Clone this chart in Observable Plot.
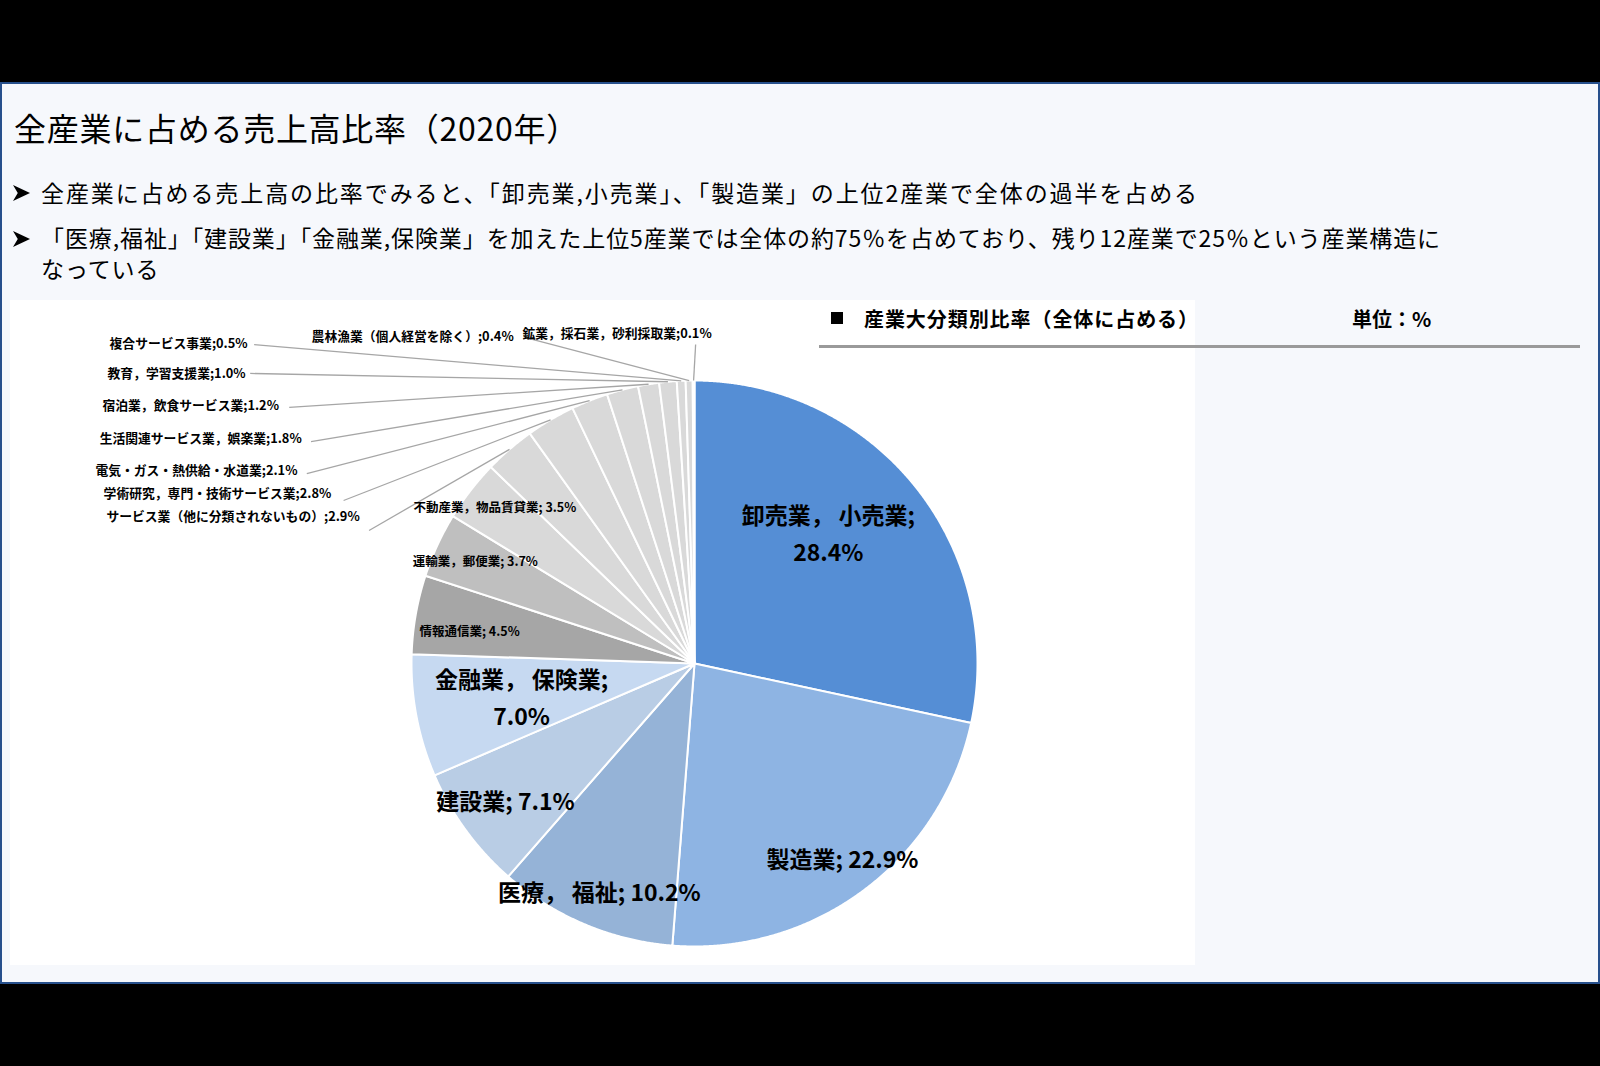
<!DOCTYPE html>
<html><head><meta charset="utf-8">
<script src="https://cdn.jsdelivr.net/npm/d3@7"></script>
<script src="https://cdn.jsdelivr.net/npm/@observablehq/plot@0.6"></script>
<style>
html,body{margin:0;padding:0;}
body{background:#000;width:1600px;height:1066px;overflow:hidden;position:relative;font-family:"Noto Sans CJK JP","Noto Sans",sans-serif;color:#000;}
#slide{position:absolute;left:0;top:82px;width:1596px;height:898px;border:2px solid #27508C;background:#F6F8FC;}
#panel{position:absolute;left:10px;top:300px;width:1185px;height:665px;background:#fff;}
.t{position:absolute;white-space:nowrap;line-height:1;}
#title{left:14px;top:111px;font-size:32px;font-weight:400;}
.bl{font-size:23px;font-weight:400;}
.arrow{position:absolute;left:13px;width:17px;height:16px;background:#000;clip-path:polygon(0 0,100% 50%,0 100%,28% 50%);}
#legendHead{left:864px;top:309px;font-size:20px;font-weight:700;}
#legendSq{left:831px;top:312px;width:12px;height:12px;background:#000;position:absolute;}
#unit{left:1352px;top:309px;font-size:20px;font-weight:700;}
#rule{position:absolute;left:819px;top:345px;width:761px;height:3px;background:#9A9A9A;}
#chart{position:absolute;left:0;top:300px;}
</style>
</head><body>
<div id="slide"></div>
<div id="panel"></div>
<div class="t" id="title">全産業に占める売上高比率（2020年）</div>
<div class="arrow" style="top:185px"></div>
<div class="t bl" id="b1" style="left:41px;top:181px">全産業に占める売上高の比率でみると、「卸売業,小売業」、「製造業」の上位2産業で全体の過半を占める</div>
<div class="arrow" style="top:231px"></div>
<div class="t bl" id="b2" style="left:41px;top:226px">「医療,福祉」「建設業」「金融業,保険業」を加えた上位5産業では全体の約75％を占めており、残り12産業で25％という産業構造に</div>
<div class="t bl" id="b3" style="left:41px;top:257px">なっている</div>
<div id="legendSq"></div>
<div class="t" id="legendHead">産業大分類別比率（全体に占める）</div>
<div class="t" id="unit">単位：%</div>
<div id="rule"></div>
<div id="chart"></div>
<script>
// ---- data ----
const industries = ["卸売業，小売業","製造業","医療，福祉","建設業","金融業，保険業","情報通信業","運輸業，郵便業","不動産業，物品賃貸業","サービス業（他に分類されないもの）","学術研究，専門・技術サービス業","電気・ガス・熱供給・水道業","生活関連サービス業，娯楽業","宿泊業，飲食サービス業","教育，学習支援業","複合サービス事業","農林漁業（個人経営を除く）","鉱業，採石業，砂利採取業"];
const shares = [28.4,22.9,10.2,7.1,7.0,4.5,3.7,3.5,2.9,2.8,2.1,1.8,1.2,1.0,0.5,0.4,0.1];

// ---- styles ----
const sliceColors = ["#558ED5","#8EB4E3","#95B3D7","#B9CDE5","#C6D9F1","#A6A6A6","#BFBFBF","#D9D9D9","#D9D9D9","#D9D9D9","#D9D9D9","#D9D9D9","#D9D9D9","#D9D9D9","#D9D9D9","#D9D9D9","#D9D9D9"];

// ---- label layout (units of pie radius, origin at pie centre) ----
const labelKind = ["big","big","big","big","big","inner","inner","inner","outer","outer","outer","outer","outer","outer","outer","outer","outer"];
const labelSep  = [";\n","; ","; ","; ",";\n","; ","; ","; ",";",";",";",";",";",";",";",";",";"];
const labelU = [0.473,0.523,-0.336,-0.668,-0.611,-0.972,-0.996,-0.993,-2.078,-2.088,-2.117,-2.102,-2.092,-2.074,-2.067,-1.353,-0.608];
const labelV = [0.470,-0.682,-0.798,-0.477,-0.111,0.113,0.360,0.548,0.519,0.601,0.682,0.792,0.912,1.025,1.131,1.155,1.163];
const leaderU = [null,null,null,null,null,null,null,null,-1.150,-1.240,-1.370,-1.355,-1.432,-1.570,-1.556,-0.600,0.004];
const leaderV = [null,null,null,null,null,null,null,null,0.470,0.576,0.671,0.784,0.905,1.025,1.127,1.152,1.127];

const rows = industries.map((name, i) => ({name, value: shares[i], i}));
const arcs = d3.pie().sort(null).value(d => d.value)(rows);

const pts = [];
arcs.forEach(a => {
  const name = a.data.name;
  pts.push({name, x: 0, y: 0});
  const n = Math.max(2, Math.ceil((a.endAngle - a.startAngle) / 0.004));
  for (let k = 0; k <= n; k++) {
    const t = a.startAngle + (a.endAngle - a.startAngle) * k / n;
    pts.push({name, x: Math.sin(t), y: Math.cos(t)});
  }
});

const labels = arcs.map(a => {
  const i = a.data.i;
  const mid = (a.startAngle + a.endAngle) / 2;
  const nm = labelKind[i] === "big" ? a.data.name.replace("，", "，\u2009") : a.data.name;
  return {
    kind: labelKind[i],
    text: nm + labelSep[i] + a.data.value.toFixed(1) + "%",
    x: labelU[i], y: labelV[i],
    lx: leaderU[i], ly: leaderV[i],
    ex: Math.sin(mid), ey: Math.cos(mid)
  };
});
const outer = labels.filter(d => d.kind === "outer");

const cx = 694, r = 283, cyInSvg = 363;
const chart = Plot.plot({
  width: 1600, height: 680, margin: 0,
  style: {background: "transparent", fontFamily: "'Noto Sans CJK JP', sans-serif"},
  x: {domain: [-1, 1], range: [cx - r, cx + r], axis: null},
  y: {domain: [-1, 1], range: [cyInSvg + r, cyInSvg - r], axis: null},
  color: {domain: industries, range: sliceColors},
  marks: [
    Plot.line(pts, {x: "x", y: "y", z: "name", fill: "name", stroke: "#fff", strokeWidth: 2, strokeLinejoin: "round", curve: "linear-closed"}),
    Plot.link(outer, {x1: "lx", y1: "ly", x2: "ex", y2: "ey", stroke: "#A6A6A6", strokeWidth: 1.3}),
    Plot.text(labels.filter(d => d.kind === "big"), {x: "x", y: "y", text: "text", fontSize: 23, fontWeight: "bold", lineHeight: 1.6, textAnchor: "middle", fill: "#000"}),
    Plot.text(labels.filter(d => d.kind === "inner"), {x: "x", y: "y", text: "text", fontSize: 12.5, fontWeight: "bold", textAnchor: "start", fill: "#000"}),
    Plot.text(outer, {x: "x", y: "y", text: "text", fontSize: 12.8, fontWeight: "bold", textAnchor: "start", fill: "#000"})
  ]
});
document.getElementById("chart").appendChild(chart);

function fit(id, target) {
  const el = document.getElementById(id);
  el.style.letterSpacing = "0px";
  const w = el.getBoundingClientRect().width;
  const n = el.textContent.length;
  const ls = (target - w) / n;
  el.style.letterSpacing = ls + "px";
  return ls;
}
function doFit() {
  fit("title", 565);
  fit("b1", 1158);
  const ls = fit("b2", 1400);
  document.getElementById("b3").style.letterSpacing = ls + "px";
  fit("legendHead", 335);
}
doFit();
if (document.fonts && document.fonts.ready) document.fonts.ready.then(doFit);
</script>
</body></html>
